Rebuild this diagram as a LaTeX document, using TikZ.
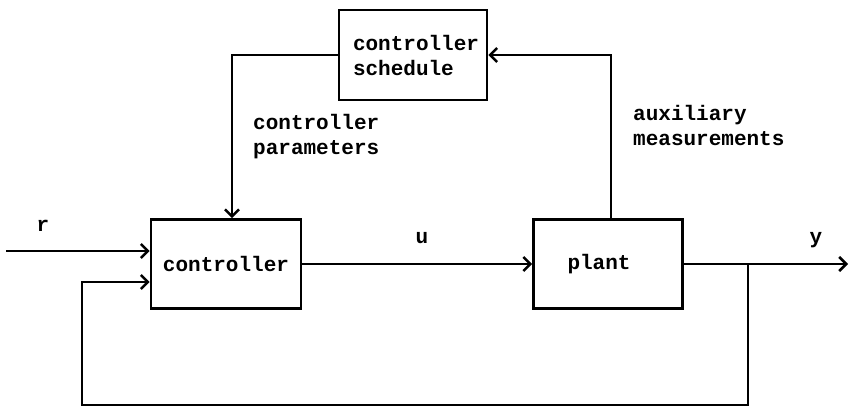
\documentclass[tikz,border=0pt]{standalone}
\usepackage{fontspec}
\setmonofont{Liberation Mono}
\usepackage{tikz}
\usetikzlibrary{arrows.meta,positioning}
\newcommand{\diagramfont}{\fontsize{21}{25}\selectfont\ttfamily\bfseries}
\tikzset{
  box/.style={draw, line width=2.6pt, align=left, inner sep=4pt,
    font=\diagramfont},
  flowlabel/.style={font=\diagramfont, align=left, inner sep=1pt},
  arrow/.style={-{Straight Barb[length=7pt, width=14pt]}, line width=2.6pt}
}
\begin{document}
\begin{tikzpicture}[x=1pt, y=-1pt]
  \useasboundingbox (0,0) rectangle (849,415);
  % blocks
  \node[box, minimum width=150pt, minimum height=89pt] (ctrl) at (226,264)
    {controller};
  \node[box, text width=81pt, minimum width=149pt, minimum height=89pt]
    (plant) at (608,264) {plant};
  \node[box, text width=120pt, minimum width=148pt, minimum height=90pt]
    (sched) at (413,55) {controller\\schedule};
  % free ends
  \coordinate (rin) at (6,251);
  \coordinate (yout) at (848,264);
  \coordinate (br) at (748,264);
  \coordinate (fbl) at (82,405);
  \coordinate (fbin) at (82,282);
  % labels
  \node[flowlabel] (rlab) at (43,226) {r};
  \node[flowlabel] (ulab) at (422,238) {u};
  \node[flowlabel] (ylab) at (816,240) {y};
  \node[flowlabel, anchor=west] (cplab) at (252,137)
    {controller\\parameters};
  \node[flowlabel, anchor=west] (amlab) at (632,125)
    {auxiliary\\measurements};
  % connectors
  \draw[arrow] (rin) -- (rin -| ctrl.west);
  \draw[arrow] (ctrl) -- (plant);
  \draw[arrow] (plant) -- (yout);
  \draw[arrow] ([xshift=3pt]plant.north) |- (sched.east);
  \draw[arrow] (sched.west) -| ([xshift=6pt]ctrl.north);
  \draw[arrow] (br) |- (fbl) -- (fbin) -- (fbin -| ctrl.west);
\end{tikzpicture}
\end{document}
